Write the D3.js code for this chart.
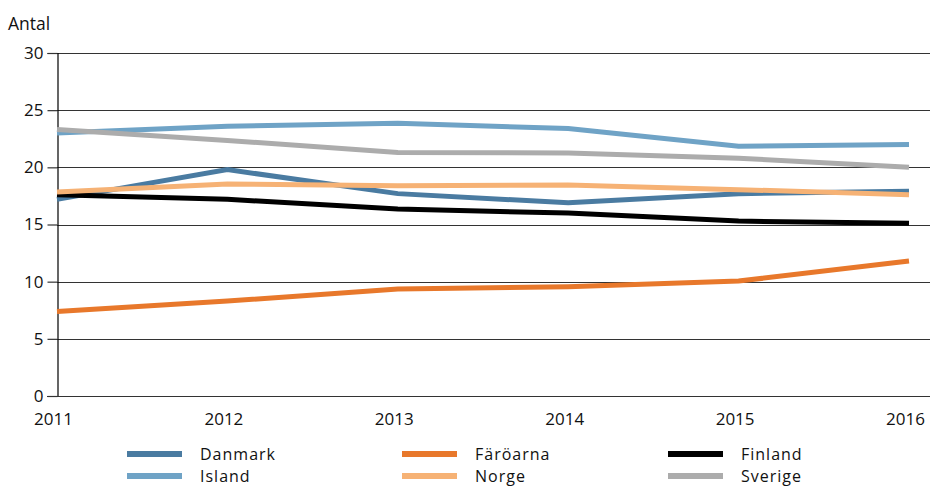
<!DOCTYPE html>
<html>
<head>
<meta charset="utf-8">
<script src="https://cdn.jsdelivr.net/npm/d3@7"></script>
<style>
  body { margin: 0; background: #fff; }
  text { font-family: 'Open Sans', sans-serif; fill: #111; }
</style>
</head>
<body>
<svg id="canvas"></svg>
<script>
/** Main values */
let years = [2011, 2012, 2013, 2014, 2015, 2016];
let yTicks = [0, 5, 10, 15, 20, 25, 30];

let danmark = [17.2, 19.8, 17.7, 16.9, 17.7, 17.9];
let faroarna = [7.4, 8.3, 9.35, 9.55, 10.05, 11.8];
let finland = [17.6, 17.2, 16.35, 16.0, 15.3, 15.1];
let island = [23.0, 23.6, 23.85, 23.4, 21.85, 22.0];
let norge = [17.85, 18.55, 18.4, 18.45, 18.05, 17.6];
let sverige = [23.3, 22.35, 21.3, 21.25, 20.8, 20.0];

let seriesNames = ['Danmark', 'Färöarna', 'Finland', 'Island', 'Norge', 'Sverige'];
let seriesColors = ['#4a7ba1', '#e8782b', '#000000', '#6fa3c6', '#f6b275', '#acacac'];
let seriesValues = [danmark, faroarna, finland, island, norge, sverige];

let width = 930;
let height = 488;

let canvas = d3.select('#canvas')
    .attr('width', width)
    .attr('height', height);

/** Scales */
let xScale = d3.scaleLinear()
    .domain([2011, 2016])
    .range([57, 909]);

let yScale = d3.scaleLinear()
    .domain([0, 30])
    .range([396, 53]);

/** Grid lines */
canvas.append('g')
    .selectAll('line')
    .data(yTicks.filter(d => d > 0))
    .enter()
    .append('line')
    .attr('x1', 57)
    .attr('x2', width)
    .attr('y1', d => Math.round(yScale(d)) + 0.5)
    .attr('y2', d => Math.round(yScale(d)) + 0.5)
    .attr('stroke', '#333')
    .attr('stroke-width', 1.2);

/** Axes */
let yAxis = d3.axisLeft(yScale)
    .tickValues(yTicks)
    .tickSize(10)
    .tickPadding(4);

let yG = canvas.append('g')
    .attr('transform', 'translate(57.5, 0)')
    .call(yAxis);
yG.select('.domain').attr('stroke', '#000').attr('stroke-width', 1.2);
yG.selectAll('.tick line').attr('stroke', '#333').attr('stroke-width', 1.2);
yG.selectAll('.tick text').attr('font-size', 17).style('font-family', "'Open Sans', sans-serif").attr('fill', '#111');

let xAxis = d3.axisBottom(xScale)
    .tickValues(years)
    .tickFormat(d3.format('d'))
    .tickSize(0)
    .tickPadding(16);

let xG = canvas.append('g')
    .attr('transform', 'translate(0, 396.5)')
    .call(xAxis);
xG.select('.domain').attr('stroke', '#333').attr('stroke-width', 1.2).attr('d', 'M47,0H' + width);
xG.selectAll('.tick text').attr('font-size', 17).attr('dx', -4).style('font-family', "'Open Sans', sans-serif").attr('fill', '#111');

canvas.append('text')
    .attr('x', 8)
    .attr('y', 30)
    .attr('font-size', 17.5)
    .text('Antal');

/** Lines */
let line = d3.line()
    .x((d, i) => xScale(years[i]))
    .y(d => yScale(d));

canvas.append('g')
    .selectAll('path')
    .data(seriesValues)
    .enter()
    .append('path')
    .attr('d', d => line(d))
    .attr('fill', 'none')
    .attr('stroke', (d, i) => seriesColors[i])
    .attr('stroke-width', 5);

/** Legend */
let legendX = [127, 402, 668];
let legendY = [454, 476];
let legendOrder = [0, 1, 2, 3, 4, 5];

let legend = canvas.append('g')
    .selectAll('g')
    .data(legendOrder)
    .enter()
    .append('g')
    .attr('transform', i => `translate(${legendX[i % 3]}, ${legendY[Math.floor(i / 3)]})`);

legend.append('rect')
    .attr('x', 0)
    .attr('y', -3)
    .attr('width', 55)
    .attr('height', 6)
    .attr('fill', i => seriesColors[i]);

legend.append('text')
    .attr('x', 73)
    .attr('y', 6)
    .attr('font-size', 16)
    .attr('letter-spacing', 1)
    .text(i => seriesNames[i]);
</script>
</body>
</html>
